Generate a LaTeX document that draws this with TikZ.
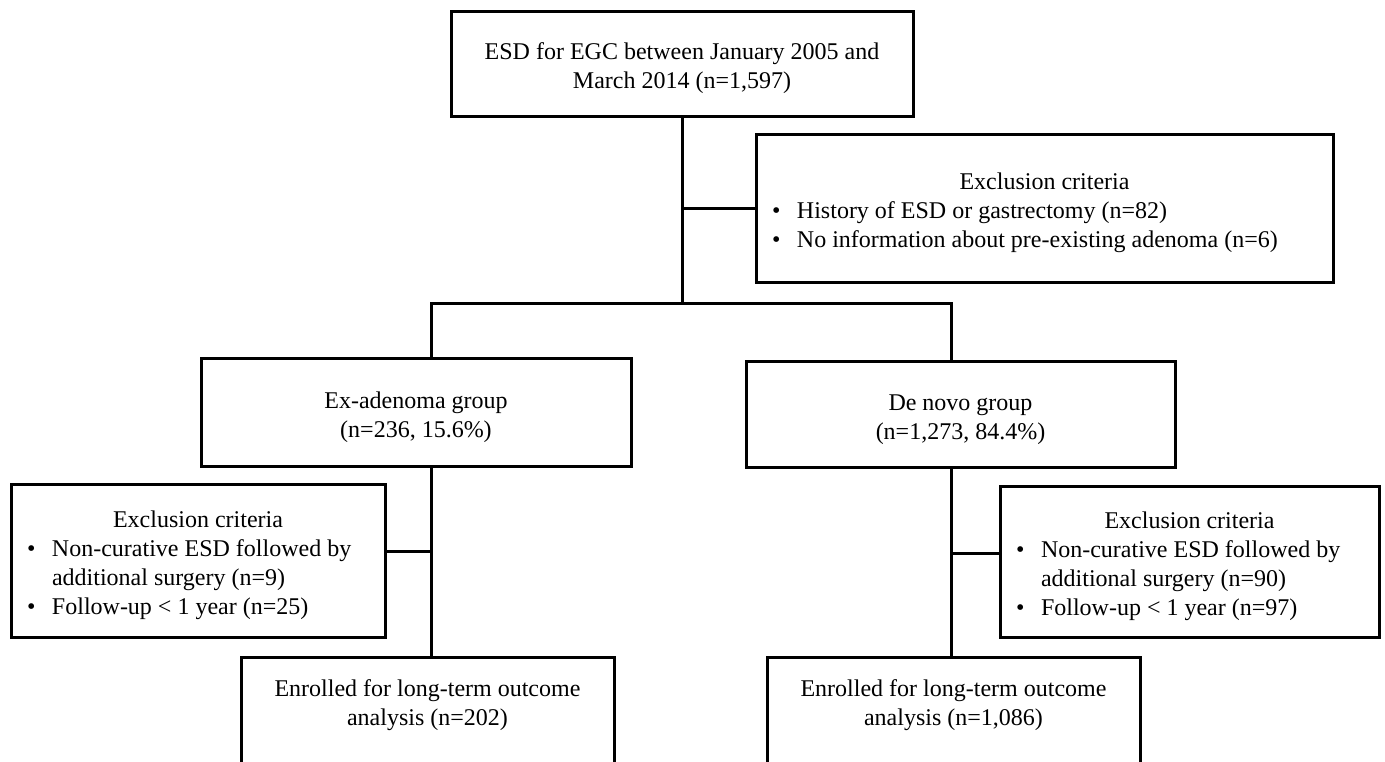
\documentclass[tikz,border=0pt]{standalone}
\usepackage{fontspec}
\setmainfont{Liberation Serif}
\usepackage{tikz}
\newcommand{\critem}[1]{\par\noindent\hangindent=20.5pt\hangafter=1%
  \makebox[20.5pt][l]{\hspace{8pt}\textbullet}#1}
\newcommand{\crithead}{\noindent\makebox[\linewidth]{Exclusion criteria}}

\tikzset{
  flowbox/.style={draw,line width=1.5pt,inner sep=0pt,align=flush center,
    font=\fontsize{12}{14.5}\selectfont,
    execute at begin node={\rule{0pt}{13.5pt}}},
  critbox/.style={flowbox,align=flush left},
  flowline/.style={line width=1.5pt}
}

\begin{document}
\begin{tikzpicture}[x=0.5pt,y=-0.5pt]
\useasboundingbox (0,0) rectangle (1385,761);
\clip (0,0) rectangle (1385,761);

% boxes
\node[flowbox,text width=231pt,minimum height=52.5pt] (start) at (682,63.5)
  {ESD for EGC between January 2005 and\\March 2014 (n=1,597)};
\node[critbox,text width=288.5pt,minimum height=74pt] (excl) at (1044.5,208)
  {\crithead
   \critem{History of ESD or gastrectomy (n=82)}
   \critem{No information about pre-existing adenoma (n=6)}};
\node[flowbox,text width=215pt,minimum height=54pt] (exa) at (416,412)
  {Ex-adenoma group\\(n=236, 15.6\%)};
\node[flowbox,text width=214.5pt,minimum height=53pt] (dnv) at (960.5,414)
  {De novo group\\(n=1,273, 84.4\%)};
\node[critbox,text width=187pt,minimum height=76.5pt] (exclA) at (198,560.5)
  {\crithead
   \critem{Non-curative ESD followed by\newline additional surgery (n=9)}
   \critem{Follow-up < 1 year (n=25)}};
\node[critbox,text width=189.5pt,minimum height=75.5pt] (exclB) at (1189.5,561.5)
  {\crithead
   \critem{Non-curative ESD followed by\newline additional surgery (n=90)}
   \critem{Follow-up < 1 year (n=97)}};
\node[flowbox,anchor=north,text width=186.5pt,inner ysep=6pt] (enrA) at (427.5,656)
  {Enrolled for long-term outcome\\analysis (n=202)\rule[-40pt]{0pt}{40pt}};
\node[flowbox,anchor=north,text width=186.5pt,inner ysep=6pt] (enrB) at (953.5,656)
  {Enrolled for long-term outcome\\analysis (n=1,086)\rule[-40pt]{0pt}{40pt}};

% connectors
\coordinate (lsplit) at (431,303);
\coordinate (rsplit) at (951,303);
\coordinate (exclAjoin) at ([yshift=4.75pt]exclA.east);
\coordinate (exclBjoin) at ([yshift=4.25pt]exclB.west);
\draw[flowline] (start.south) -- (start.south |- lsplit);
\draw[flowline] (start.south |- excl.west) -- (excl.west);
\draw[flowline] (lsplit |- exa.north) -- (lsplit) -- (rsplit) -- (rsplit |- dnv.north);
\draw[flowline] (lsplit |- exa.south) -- (lsplit |- enrA.north);
\draw[flowline] (exclAjoin) -- (lsplit |- exclAjoin);
\draw[flowline] (rsplit |- dnv.south) -- (rsplit |- enrB.north);
\draw[flowline] (exclBjoin) -- (rsplit |- exclBjoin);
\end{tikzpicture}
\end{document}
